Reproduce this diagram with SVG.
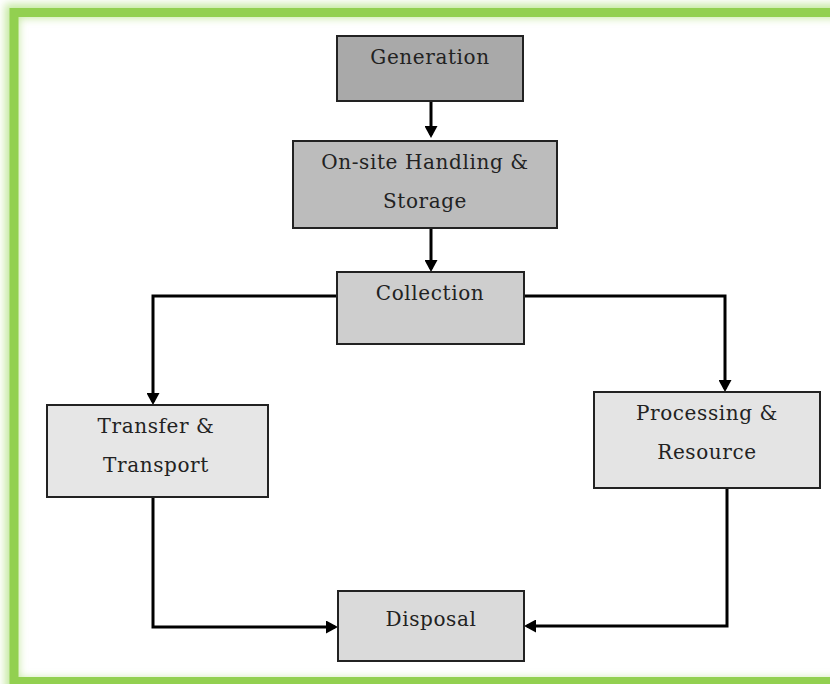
<svg xmlns="http://www.w3.org/2000/svg" width="830" height="684" viewBox="0 0 830 684">
<style>
.box{stroke:#222;stroke-width:2}
.lbl{font-family:"DejaVu Serif","Liberation Serif",serif;font-size:20px;fill:#222;text-anchor:middle;letter-spacing:0.6px}
.con{fill:none;stroke:#000;stroke-width:3;marker-end:url(#ah)}
</style>
<defs>
<marker id="ah" viewBox="0 0 12 13" refX="9" refY="6.5" markerWidth="12" markerHeight="13" markerUnits="userSpaceOnUse" orient="auto">
<path d="M0,0 L12,6.5 L0,13 z" fill="#000"/>
</marker>
<filter id="glow" x="-5%" y="-5%" width="110%" height="110%">
<feGaussianBlur stdDeviation="4"/>
</filter>
</defs>
<rect width="830" height="684" fill="#fff"/>
<g id="frame">
<rect x="12" y="11" width="840" height="674" fill="none" stroke="#c5e8a0" stroke-width="14" filter="url(#glow)"/>
<rect x="14" y="12.5" width="840" height="669" fill="none" stroke="#92d050" stroke-width="9"/>
</g>
<g id="connectors">
<path class="con" d="M431,101 V135"/>
<path class="con" d="M431,228 V269"/>
<path class="con" d="M337,296 H153 V402"/>
<path class="con" d="M524,296 H725 V389"/>
<path class="con" d="M153,497 V627 H335"/>
<path class="con" d="M727,488 V626 H527"/>
</g>
<g id="generation">
<rect class="box" x="337" y="36" width="186" height="65" fill="#a9a9a9"/>
<text class="lbl" x="430" y="64">Generation</text>
</g>
<g id="onsite">
<rect class="box" x="293" y="141" width="264" height="87" fill="#bcbcbc"/>
<text class="lbl" x="425" y="169">On-site Handling &amp;</text>
<text class="lbl" x="425" y="208">Storage</text>
</g>
<g id="collection">
<rect class="box" x="337" y="272" width="187" height="72" fill="#cecece"/>
<text class="lbl" x="430" y="300">Collection</text>
</g>
<g id="transfer">
<rect class="box" x="47" y="405" width="221" height="92" fill="#e6e6e6"/>
<text class="lbl" x="156" y="433">Transfer &amp;</text>
<text class="lbl" x="156" y="472">Transport</text>
</g>
<g id="processing">
<rect class="box" x="594" y="392" width="226" height="96" fill="#e4e4e4"/>
<text class="lbl" x="707" y="420">Processing &amp;</text>
<text class="lbl" x="707" y="459">Resource</text>
</g>
<g id="disposal">
<rect class="box" x="338" y="591" width="186" height="70" fill="#dadada"/>
<text class="lbl" x="431" y="626">Disposal</text>
</g>
</svg>
